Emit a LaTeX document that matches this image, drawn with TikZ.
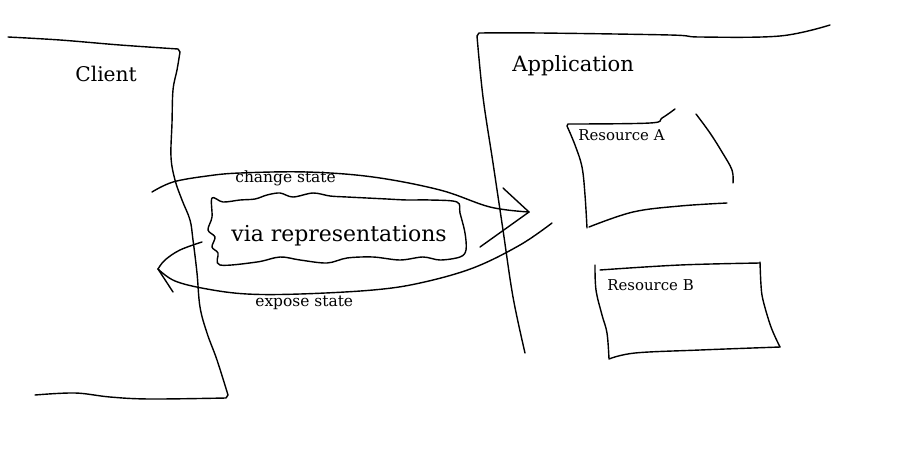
\documentclass[tikz,border=0pt]{standalone}
\usepackage{fontspec}
\setmainfont{DejaVu Serif}
\begin{document}
\begin{tikzpicture}[x=0.02cm,y=-0.02cm,
  ink/.style={line width=0.8pt,line cap=round,line join=round},
  lbl/.style={inner sep=0pt,anchor=base west},
  ]
\useasboundingbox[fill=white] (0,0) rectangle (920,450);
% Client
\draw[ink] plot[smooth,tension=0.6] coordinates {(8,37) (60,40) (120,45) (178,49)}
  -- plot[smooth,tension=0.6] coordinates {(180,52) (177,70) (173,90) (172,123) (171,157) (175,180) (182,200) (190,220) (193,240) (197,273) (200,307) (207,333) (217,360) (228,395)}
  -- plot[smooth,tension=0.6] coordinates {(226,398) (150,399) (110,397) (75,393) (35,395)};
\node[lbl,font=\fontsize{11.5}{13}\selectfont] (client) at (75,81) {Client};
% Application
\draw[ink] plot[smooth,tension=0.6] coordinates {(525,353) (513,297) (503,230) (493,163) (483,97) (477,36)}
  -- plot[smooth,tension=0.6] coordinates {(479,33) (540,33) (670,35) (700,37) (780,36) (830,25)};
\node[lbl,font=\fontsize{12}{14}\selectfont] (app) at (512,71) {Application};
% Resource A
\draw[ink] plot[smooth,tension=0.6] coordinates {(675,109) (662,118) (650,123) (568,124)}
  -- plot[smooth,tension=0.6] coordinates {(567,126) (575,145) (582,167) (585,195) (587,228)};
\draw[ink] plot[smooth,tension=0.6] coordinates {(589,227) (633,212) (680,206) (727,203)};
\draw[ink] plot[smooth,tension=0.6] coordinates {(696,114) (710,133) (722,152) (732,170) (733,183)};
\node[lbl,font=\fontsize{8.5}{10}\selectfont] (resA) at (578,140) {Resource A};
% Resource B
\draw[ink] plot[smooth,tension=0.6] coordinates {(600,270) (680,265) (760,263)};
\draw[ink] plot[smooth,tension=0.6] coordinates {(595,265) (596,290) (602,315) (607,333) (609,359)}
  -- plot[smooth,tension=0.6] coordinates {(609,359) (635,353) (700,350) (780,347)};
\draw[ink] plot[smooth,tension=0.6] coordinates {(760,262) (761,285) (763,300) (771,327) (780,347)};
\node[lbl,font=\fontsize{8.5}{10}\selectfont] (resB) at (607,290) {Resource B};
% bubble
\draw[ink] plot[smooth cycle,tension=0.55] coordinates {
 (212,198) (223,202) (240,200) (255,199) (267,195) (280,193) (293,197) (313,193) (330,196) (347,197) (367,198) (387,199) (407,200) (430,200) (457,202)
 (460,213) (465,233) (466,250) (460,257)
 (440,260) (423,257) (400,260) (373,257) (347,258) (327,263) (300,260) (280,257) (257,262) (220,265)
 (218,253) (212,247) (215,237) (208,230) (212,217)};
\node[lbl,font=\fontsize{12.5}{15}\selectfont] (rep) at (231,241) {via representations};
% change state arc
\coordinate (tipR) at (529,212);
\draw[ink] plot[smooth,tension=0.6] coordinates {(152,192) (173,182) (207,176) (240,173) (307,172) (373,177) (440,190) (490,207) (529,212)};
\draw[ink] (503,188) -- (tipR);
\draw[ink] (480,247) -- (tipR);
\node[lbl,font=\fontsize{8.8}{10}\selectfont] (chg) at (235,182) {change state};
% expose state arc
\coordinate (tipL) at (158,269);
\draw[ink] plot[smooth,tension=0.6] coordinates {(552,223) (520,245) (473,268) (420,283) (373,290) (300,294) (247,294) (207,289) (175,281) (158,269)};
\draw[ink] plot[smooth,tension=0.6] coordinates {(202,242) (180,250) (165,260) (158,269)};
\draw[ink] (tipL) -- (173,292);
\node[lbl,font=\fontsize{8.8}{10}\selectfont] (exp) at (255,306) {expose state};
\end{tikzpicture}
\end{document}
